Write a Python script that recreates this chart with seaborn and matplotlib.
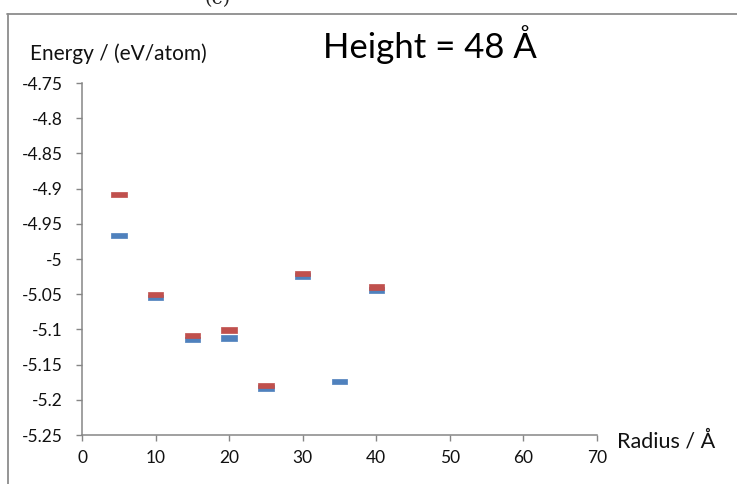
import matplotlib
matplotlib.use("Agg")
import matplotlib.pyplot as plt
import seaborn as sns
import pandas as pd
from matplotlib.lines import Line2D

# ---- data ----
radius_blue = [5, 10, 15, 20, 25, 30, 35, 40]
energy_blue = [-4.967, -5.055, -5.114, -5.112, -5.183, -5.024, -5.174, -5.044]
radius_red = [5, 10, 15, 20, 25, 30, 40]
energy_red = [-4.908, -5.050, -5.109, -5.101, -5.180, -5.021, -5.040]
series_names = ["Series 1", "Series 2"]
x_ticks = [0, 10, 20, 30, 40, 50, 60, 70]
y_ticks = [-5.25, -5.2, -5.15, -5.1, -5.05, -5.0, -4.95, -4.9, -4.85, -4.8, -4.75]
y_tick_labels = ["-5.25", "-5.2", "-5.15", "-5.1", "-5.05", "-5", "-4.95", "-4.9", "-4.85", "-4.8", "-4.75"]

df = pd.DataFrame({
    "radius": radius_blue + radius_red,
    "energy": energy_blue + energy_red,
    "series": [series_names[0]] * len(radius_blue) + [series_names[1]] * len(radius_red),
})

sns.set_style("white")
plt.rcParams["font.family"] = ["Lato", "DejaVu Sans"]

W, H = 737, 484
fig = plt.figure(figsize=(W / 100, H / 100), dpi=100)
ax_l, ax_r, ax_t, ax_b = 82, 597, 83, 435
ax = fig.add_axes([ax_l / W, 1 - ax_b / H, (ax_r - ax_l) / W, (ax_b - ax_t) / H])

dash = [(-1.6, -0.55), (1.6, -0.55), (1.6, 0.55), (-1.6, 0.55), (-1.6, -0.55)]
sns.scatterplot(data=df, x="radius", y="energy", hue="series",
                palette={series_names[0]: "#4F81BD", series_names[1]: "#C0504D"},
                marker=dash, s=125, linewidth=0.5, edgecolor="face",
                legend=False, ax=ax, zorder=3)

ax.set_xlim(0, 70)
ax.set_ylim(-5.25, -4.75)
ax.set_xticks(x_ticks)
ax.set_xticklabels([str(t) for t in x_ticks])
ax.set_yticks(y_ticks)
ax.set_yticklabels(y_tick_labels)
ax.set_xlabel("")
ax.set_ylabel("")

for s in ["top", "right"]:
    ax.spines[s].set_visible(False)
for s in ["left", "bottom"]:
    ax.spines[s].set_color("#868686")
    ax.spines[s].set_linewidth(1.1)

ax.tick_params(axis="both", which="major", direction="out", length=4.5, width=1.0,
               color="#868686", labelsize=12.5, labelcolor="#111111")
ax.tick_params(axis="x", pad=6.5, bottom=True)
ax.tick_params(axis="y", pad=9.5, left=True)

# axis titles
fig.text(30 / W, 1 - 60 / H, "Energy / (eV/atom)", fontsize=15, ha="left", va="baseline", color="#111111")
fig.text(617 / W, 1 - 447 / H, "Radius / Å", fontsize=15.5, ha="left", va="baseline", color="#111111")
# chart title
fig.text(430 / W, 1 - 58 / H, "Height = 48 Å", fontsize=25, ha="center", va="baseline", color="#000000")

# outer frame (top and left border)
fig.add_artist(Line2D([7 / W, 1.0], [1 - 14 / H, 1 - 14 / H], color="#8c8c8c", linewidth=1.3,
                      transform=fig.transFigure))
fig.add_artist(Line2D([8 / W, 8 / W], [0, 1 - 14 / H], color="#8c8c8c", linewidth=1.3,
                      transform=fig.transFigure))
# cropped panel label
fig.text(218 / W, 1 - 4 / H, "(c)", fontsize=14, ha="center", va="baseline",
         family="DejaVu Serif", color="#222222")

fig.savefig("out.png", dpi=100)
